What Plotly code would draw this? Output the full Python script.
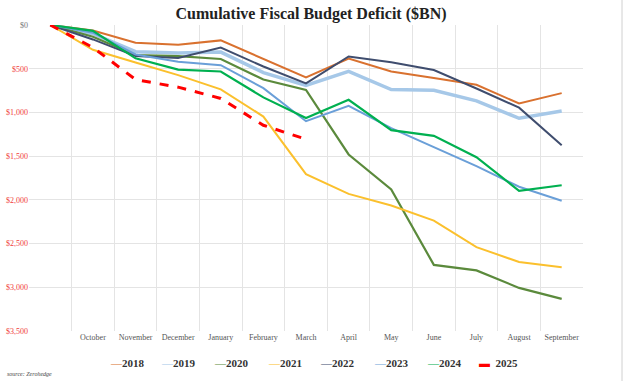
import plotly.graph_objects as go

months = ["", "October", "November", "December", "January", "February", "March",
          "April", "May", "June", "July", "August", "September"]

d2018 = [0, 63, 202, 225, 176, 391, 600, 385, 532, 607, 684, 898, 779]
d2019 = [0, 100, 305, 319, 310, 544, 691, 531, 738, 747, 867, 1067, 984]
d2020 = [0, 134, 343, 357, 389, 624, 743, 1481, 1880, 2744, 2807, 3007, 3132]
d2021 = [0, 284, 429, 573, 736, 1047, 1706, 1932, 2064, 2238, 2540, 2711, 2772]
d2022 = [0, 165, 356, 377, 259, 475, 668, 360, 426, 515, 726, 946, 1375]
d2023 = [0, 88, 337, 421, 460, 723, 1100, 925, 1180, 1393, 1614, 1850, 2010]
d2024 = [0, 67, 381, 510, 532, 828, 1065, 855, 1202, 1268, 1512, 1897, 1833]
d2025 = [0, 257, 624, 711, 840, 1147, 1307]

y_ticks = [0, 500, 1000, 1500, 2000, 2500, 3000, 3500]
y_labels = ["$0", "$500", "$1,000", "$1,500", "$2,000", "$2,500", "$3,000", "$3,500"]

series = [
    ("2018", d2018, "#D9712F", 2, "solid"),
    ("2019", d2019, "#A6C8E8", 3.5, "solid"),
    ("2020", d2020, "#5B8A3C", 2.2, "solid"),
    ("2021", d2021, "#FBC02D", 2, "solid"),
    ("2022", d2022, "#3F4D6E", 2, "solid"),
    ("2023", d2023, "#6A9FD8", 2, "solid"),
    ("2024", d2024, "#00B050", 2.2, "solid"),
    ("2025", d2025, "#FF0000", 3, "dash"),
]

W, H = 626, 381
L, R, T, B = 29, 43, 25, 50
PW, PH = W - L - R, H - T - B

def px(x):
    return (x - L) / PW

def py(y):
    return (H - B - y) / PH

fig = go.Figure()
for name, vals, color, width, dash in series:
    fig.add_trace(go.Scatter(
        x=list(range(len(vals))), y=[-v for v in vals], mode="lines", name=name,
        line=dict(color=color, width=width, dash=dash),
        showlegend=False,
    ))

serif = "Liberation Serif, DejaVu Serif, serif"

fig.update_layout(
    width=W, height=H, autosize=False,
    margin=dict(l=L, r=R, t=T, b=B, autoexpand=False),
    paper_bgcolor="white", plot_bgcolor="white",
    title=dict(text="<b>Cumulative Fiscal Budget Deficit ($BN)</b>",
               x=311 / W, xanchor="center", xref="container",
               y=1 - 13 / H, yanchor="middle", yref="container",
               font=dict(family=serif, size=16, color="#222222")),
    xaxis=dict(range=[-0.5, 12.5], tickmode="array", automargin=False,
               tickvals=list(range(1, 13)), ticktext=months[1:],
               showgrid=False, zeroline=False, ticks="",
               tickfont=dict(family=serif, size=8, color="#555555"),
               minor=dict(tickmode="array",
                          tickvals=[i - 0.5 for i in range(14)],
                          showgrid=True, gridcolor="#E4E4E4", gridwidth=1, ticks="")),
    yaxis=dict(range=[-3500, 0], tickmode="array", automargin=False,
               tickvals=[-v for v in y_ticks],
               ticktext=['<span style="color:#777777">$0</span>'] + y_labels[1:],
               showgrid=True, gridcolor="#E4E4E4", gridwidth=1, zeroline=False,
               ticks="", tickfont=dict(family=serif, size=8, color="#F03C3C")),
)

# legend drawn as text entries
leg_x = [108, 159, 212, 266, 318, 372, 425, 477]
for (name, vals, color, width, dash), lx in zip(series, leg_x):
    if dash == "dash":
        txt = f'<span style="color:{color}">▬</span>  {name}'
    else:
        txt = f'<span style="color:{color}">—</span>{name}'
    fig.add_annotation(text=f"<b>{txt}</b>", xref="paper", yref="paper",
                       x=px(lx), y=py(363), xanchor="left", yanchor="middle",
                       showarrow=False,
                       font=dict(family=serif, size=11, color="#333333"))

fig.add_annotation(text="<i>source: Zerohedge</i>", xref="paper", yref="paper",
                   x=px(5), y=py(374), xanchor="left", yanchor="middle",
                   showarrow=False, font=dict(family=serif, size=6, color="#444444"))

fig.add_shape(type="line", xref="paper", yref="paper",
              x0=px(622), x1=px(622), y0=py(0), y1=py(381),
              line=dict(color="#D0D0D0", width=1))

fig.write_html("out.html", config={"displayModeBar": False},
               post_script="document.body.style.margin='0';document.body.style.overflow='hidden';")
